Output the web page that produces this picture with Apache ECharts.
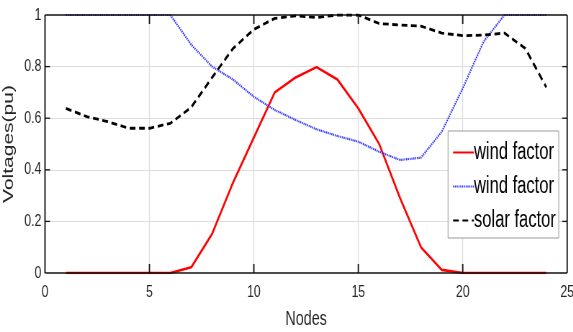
<!DOCTYPE html>
<html><head><meta charset="utf-8">
<script src="https://cdn.jsdelivr.net/npm/echarts@6/dist/echarts.min.js"></script>
<style>html,body{margin:0;padding:0;background:#fff;overflow:hidden}
#wrap{width:573px;height:332px;overflow:hidden}
#c{width:796px;height:332px;transform:scaleX(0.72);transform-origin:0 0}</style>
</head><body><div id="wrap"><div id="c"></div></div>
<script>
const nodes = [1,2,3,4,5,6,7,8,9,10,11,12,13,14,15,16,17,18,19,20,21,22,23,24];
const wind1 = [0,0,0,0,0,0,0.022,0.152,0.35,0.525,0.70,0.758,0.798,0.75,0.638,0.50,0.29,0.10,0.012,0,0,0,0,0];
const wind2 = [1,1,1,1,1,1,0.885,0.80,0.75,0.683,0.632,0.593,0.557,0.531,0.509,0.47,0.438,0.447,0.548,0.716,0.897,1,1,1];
const solar = [0.638,0.606,0.587,0.561,0.561,0.58,0.642,0.758,0.87,0.944,0.987,0.997,0.99,1.0,1.0,0.967,0.961,0.957,0.93,0.92,0.922,0.93,0.87,0.72];
const seriesNames = ['wind factor','wind factor ','solar factor'];
const xTicks = [0,5,10,15,20,25];
const yTicks = [0,0.2,0.4,0.6,0.8,1];

const FONT = "'Liberation Sans',Arial,sans-serif";
const pair = a => nodes.map((n,i)=>[n,a[i]]);
const chart = echarts.init(document.getElementById('c'), null, {renderer:'canvas'});
chart.setOption({
  animation:false,
  grid:{left:62.5,right:8.3,top:15,bottom:59,containLabel:false,outerBoundsMode:'none'},
  legend:{
    orient:'vertical', right:20, top:131,
    backgroundColor:'#fff', borderColor:'#9a9a9a', borderWidth:1,
    padding:[10,4,6,6], itemGap:11, itemWidth:29, itemHeight:14,
    itemStyle:{opacity:0},
    textStyle:{fontFamily:FONT,fontSize:23,color:'#000',padding:[0,0,0,-5]},
    formatter: n => n.trim(),
    data:seriesNames, z:20
  },
  xAxis:{type:'value',min:0,max:25,interval:5,
      name:'Nodes',nameLocation:'middle',nameGap:36,
      nameTextStyle:{fontFamily:FONT,fontSize:20,color:'#262626'},
      axisLine:{show:false}, axisTick:{show:false},
      axisLabel:{fontFamily:FONT,fontSize:17,color:'#262626',margin:11,
        formatter:v=>xTicks.includes(v)?String(v):''},
      splitLine:{show:true,showMinLine:false,showMaxLine:false,lineStyle:{color:'#dcdcdc',width:1.3}}},
  yAxis:{type:'value',min:0,max:1,interval:0.2,
      name:'Voltages(pu)',nameLocation:'middle',nameGap:22,
      nameTextStyle:{fontFamily:FONT,fontSize:21,color:'#262626'},
      axisLine:{show:false}, axisTick:{show:false},
      axisLabel:{fontFamily:FONT,fontSize:17,color:'#262626',margin:5,
        formatter:v=>{const t=yTicks.find(y=>Math.abs(y-v)<1e-9);return t===undefined?'':String(+t.toFixed(1));}},
      splitLine:{show:true,showMinLine:false,showMaxLine:false,lineStyle:{color:'#dcdcdc'}}},
  series:[
    {name:seriesNames[0],type:'line',data:pair(wind1),showSymbol:false,symbol:'none',
      lineStyle:{color:'#ff0000',width:2.6},itemStyle:{color:'#ff0000'},z:3},
    {name:seriesNames[1],type:'line',data:pair(wind2),showSymbol:false,symbol:'none',
      lineStyle:{color:'#3030ff',width:2.2,type:[1.5,1]},itemStyle:{color:'#3030ff'},z:4},
    {name:seriesNames[2],type:'line',data:pair(solar),showSymbol:false,symbol:'none',
      lineStyle:{color:'#000',width:2.8,type:[8,5]},itemStyle:{color:'#000'},z:5}
  ]
});

// Axes frame and inward ticks, positioned through the chart's own scales
const px = (x,y) => chart.convertToPixel({xAxisIndex:0,yAxisIndex:0},[x,y]);
const lo = px(xTicks[0], yTicks[0]);
const hi = px(xTicks[xTicks.length-1], yTicks[yTicks.length-1]);
const x0 = lo[0], y0 = lo[1], x1 = hi[0], y1 = hi[1];
const C = '#111';
const seg = (a,b,c,d,w) => ({type:'line',silent:true,z:100,
  shape:{x1:a,y1:b,x2:c,y2:d},style:{stroke:C,lineWidth:w,fill:null}});
const els = [
  seg(x0,y0,x1,y0,1.4), seg(x0,y1,x1,y1,1.4),
  seg(x0,y0,x0,y1,1.9), seg(x1,y0,x1,y1,1.9)
];
xTicks.slice(1,-1).forEach(t=>{
  const x = px(t,0)[0];
  els.push(seg(x,y0,x,y0-9,1.8), seg(x,y1,x,y1+9,1.8));
});
yTicks.slice(1,-1).forEach(t=>{
  const y = px(0,t)[1];
  els.push(seg(x0,y,x0+7,y,1.3), seg(x1,y,x1-7,y,1.3));
});
chart.setOption({graphic:{elements:els}});
</script></body></html>
